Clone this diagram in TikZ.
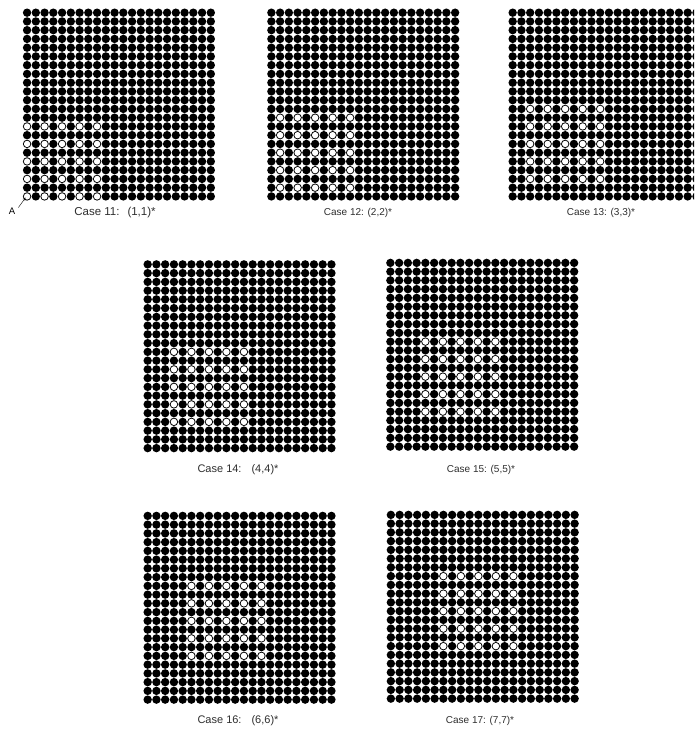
\documentclass[tikz,border=0pt]{standalone}
\usepackage{fontspec}
\setmainfont{Liberation Sans}
\definecolor{labelgray}{HTML}{2E2E2E}
\tikzset{
  blackdot/.style={fill=black},
  opendot/.style={fill=white},
  caselabel/.style={text=labelgray, inner sep=0pt, font=\fontsize{10}{12}\selectfont},
  widelabel/.style={caselabel, font=\fontsize{11}{13}\selectfont},
}
\begin{document}
\begin{tikzpicture}[x=1pt, y=-1pt, >=stealth]
    \useasboundingbox (0,0) rectangle (694,731);
    \clip (0,0) rectangle (694,731);

    % Dot panels: left, top, offset of the open block
    \foreach \lx/\ty/\k in {22.7/8.3/1, 267/8.3/2, 508.3/8.3/3, 143.3/260/4, 386/258.5/5, 143.3/511.5/6, 386.5/510.5/7} {
        \begin{scope}[shift={(\lx,\ty)}]
            % 22 x 22 black dots
            \foreach \c in {1,...,22}
                \foreach \r in {1,...,22}
                    \fill[blackdot] (\c*8.75-4.375, 196.875-\r*8.75) circle (4.2pt);

            % 5 x 5 open dots, every other position
            \foreach \i in {0,...,4}
                \foreach \j in {0,...,4}
                    \fill[opendot] ({(\k+2*\i)*8.75-4.375}, {196.875-(\k+2*\j)*8.75}) circle (3.2pt);
        \end{scope}
    }

    % Labels
    \node[caselabel, font=\fontsize{11.5}{14}\selectfont] (case11) at (115,213) {Case 11:\hspace{8pt}(1,1)*};
    \node[caselabel] (case12) at (358,213) {Case 12: (2,2)*};
    \node[caselabel] (case13) at (601,213) {Case 13: (3,3)*};
    \node[widelabel] (case14) at (238,470) {Case 14:\hspace{10pt}(4,4)*};
    \node[caselabel] (case15) at (481,470) {Case 15: (5,5)*};
    \node[widelabel] (case16) at (238,720.7) {Case 16:\hspace{10pt}(6,6)*};
    \node[caselabel] (case17) at (480,720.7) {Case 17: (7,7)*};

    % Corner marker
    \node[inner sep=0pt, font=\fontsize{9.5}{10}\selectfont] (markA) at (12,211) {A};
    \coordinate (corner) at (25.6,197.6);
    \draw[->, thin] (markA.north east) ++(3,0) -- (corner);
\end{tikzpicture}
\end{document}
